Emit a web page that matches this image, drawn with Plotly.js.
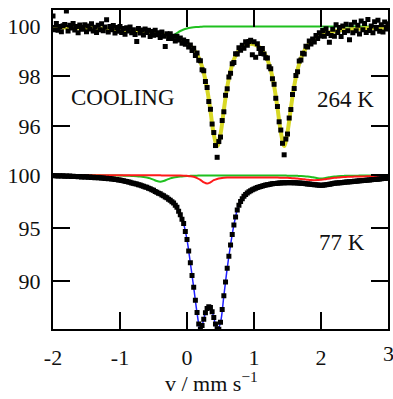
<!DOCTYPE html>
<html>
<head>
<meta charset="utf-8">
<script src="https://cdn.plot.ly/plotly-3.0.1.min.js"></script>
<style>
html,body{margin:0;padding:0;background:#fff;}
#chart{width:393px;height:399px;}
</style>
</head>
<body>
<div id="chart"></div>
<script>
// velocity grid of the fitted curves (mm/s)
const vFit = [-2,-1.95,-1.9,-1.85,-1.8,-1.75,-1.7,-1.65,-1.6,-1.55,-1.5,-1.45,-1.4,-1.35,-1.3,-1.25,-1.2,-1.15,-1.1,-1.05,-1,-0.95,-0.9,-0.85,-0.8,-0.75,-0.7,-0.65,-0.6,-0.55,-0.5,-0.45,-0.4,-0.35,-0.3,-0.25,-0.2,-0.15,-0.1,-0.05,0,0.05,0.1,0.15,0.2,0.25,0.3,0.35,0.4,0.45,0.5,0.55,0.6,0.65,0.7,0.75,0.8,0.85,0.9,0.95,1,1.05,1.1,1.15,1.2,1.25,1.3,1.35,1.4,1.45,1.5,1.55,1.6,1.65,1.7,1.75,1.8,1.85,1.9,1.95,2,2.05,2.1,2.15,2.2,2.25,2.3,2.35,2.4,2.45,2.5,2.55,2.6,2.65,2.7,2.75,2.8,2.85,2.9,2.95,3];

// velocity of the measured channels (mm/s)
const vData = [-2,-1.975,-1.95,-1.925,-1.9,-1.875,-1.85,-1.825,-1.8,-1.775,
-1.75,-1.725,-1.7,-1.675,-1.65,-1.625,-1.6,-1.575,-1.55,-1.525,
-1.5,-1.475,-1.45,-1.425,-1.4,-1.375,-1.35,-1.325,-1.3,-1.275,
-1.25,-1.225,-1.2,-1.175,-1.15,-1.125,-1.1,-1.075,-1.05,-1.025,
-1,-0.975,-0.95,-0.925,-0.9,-0.875,-0.85,-0.825,-0.8,-0.775,
-0.75,-0.725,-0.7,-0.675,-0.65,-0.625,-0.6,-0.575,-0.55,-0.525,
-0.5,-0.475,-0.45,-0.425,-0.4,-0.375,-0.35,-0.325,-0.3,-0.275,
-0.25,-0.225,-0.2,-0.175,-0.15,-0.125,-0.1,-0.075,-0.05,-0.025,
0,0.025,0.05,0.075,0.1,0.125,0.15,0.175,0.2,0.225,
0.25,0.275,0.3,0.325,0.35,0.375,0.4,0.425,0.45,0.475,
0.5,0.525,0.55,0.575,0.6,0.625,0.65,0.675,0.7,0.725,
0.75,0.775,0.8,0.825,0.85,0.875,0.9,0.925,0.95,0.975,
1,1.025,1.05,1.075,1.1,1.125,1.15,1.175,1.2,1.225,
1.25,1.275,1.3,1.325,1.35,1.375,1.4,1.425,1.45,1.475,
1.5,1.525,1.55,1.575,1.6,1.625,1.65,1.675,1.7,1.725,
1.75,1.775,1.8,1.825,1.85,1.875,1.9,1.925,1.95,1.975,
2,2.025,2.05,2.075,2.1,2.125,2.15,2.175,2.2,2.225,
2.25,2.275,2.3,2.325,2.35,2.375,2.4,2.425,2.45,2.475,
2.5,2.525,2.55,2.575,2.6,2.625,2.65,2.675,2.7,2.725,
2.75,2.775,2.8,2.825,2.85,2.875,2.9,2.925,2.95,2.975,3];

// 264 K measured transmission (%)
const data264 = [100.40,99.85,100.10,99.83,99.98,99.77,100.01,100.06,100.60,99.80,
100.03,99.92,100.10,99.84,99.98,99.73,100.04,99.87,99.94,100.05,
99.77,100.00,99.88,100.09,99.80,99.95,99.74,100.03,99.85,100.09,
99.81,99.96,100.25,99.76,99.98,99.85,100.02,99.72,99.94,99.79,
99.98,99.74,99.90,99.67,99.93,99.80,99.96,99.73,99.85,99.66,
99.38,99.90,99.72,99.84,99.64,99.88,99.74,99.83,99.58,99.78,
99.63,99.83,99.65,99.73,99.54,99.76,99.59,99.18,99.69,99.50,
99.69,99.50,99.59,99.40,99.59,99.44,99.52,99.31,99.44,99.27,
99.38,99.16,99.24,99.02,99.11,98.82,98.92,98.63,98.61,98.25,
98.21,97.78,97.54,96.98,96.67,96.08,95.74,95.22,94.75,95.38,
95.56,96.22,96.57,97.23,97.49,97.96,98.11,98.49,98.54,98.89,
98.88,99.13,99.03,99.23,99.11,99.37,99.23,99.38,99.43,98.85,
99.37,98.75,99.29,99.10,98.90,99.10,98.88,98.73,98.72,98.37,
98.29,97.89,97.67,97.11,96.78,96.17,95.84,95.31,94.85,95.48,
95.68,96.32,96.66,97.26,97.50,98.02,98.17,98.60,98.64,98.91,
98.88,99.19,99.16,99.40,99.28,99.48,99.36,99.62,99.50,99.73,
99.60,99.82,99.59,99.89,99.70,99.35,99.62,99.87,99.59,100.05,
99.74,99.94,99.58,100.00,99.74,100.07,99.81,99.45,100.05,99.73,
100.15,99.81,100.03,99.68,100.20,99.85,100.10,99.74,100.26,99.82,
100.00,99.73,100.17,99.89,100.23,99.79,100.05,99.76,100.16,99.88,100.09];

// 264 K fitted envelope (yellow) and broad component (green)
const fit264 = [99.95,99.95,99.95,99.94,99.94,99.94,99.94,99.93,99.93,99.92,
99.92,99.92,99.91,99.91,99.90,99.90,99.89,99.88,99.88,99.87,
99.86,99.85,99.84,99.83,99.82,99.80,99.79,99.77,99.76,99.74,
99.72,99.70,99.68,99.65,99.62,99.59,99.55,99.51,99.46,99.39,
99.31,99.21,99.06,98.86,98.57,98.13,97.49,96.61,95.66,95.20,
95.68,96.65,97.55,98.21,98.66,98.93,99.10,99.21,99.27,99.29,
99.27,99.21,99.10,98.93,98.66,98.24,97.61,96.73,95.77,95.20,
95.76,96.71,97.60,98.25,98.70,99.00,99.21,99.36,99.48,99.56,
99.64,99.69,99.73,99.76,99.79,99.81,99.83,99.85,99.86,99.87,
99.88,99.89,99.90,99.91,99.91,99.92,99.93,99.93,99.93,99.94,99.94];
const green264 = [99.97,99.97,99.97,99.96,99.96,99.96,99.96,99.95,99.95,99.94,
99.94,99.94,99.93,99.93,99.92,99.92,99.91,99.90,99.90,99.89,
99.88,99.87,99.86,99.85,99.84,99.82,99.81,99.79,99.78,99.76,
99.74,99.72,99.70,99.67,99.64,99.62,99.64,99.72,99.80,99.86,
99.90,99.93,99.95,99.96,99.97,99.98,99.98,99.98,99.98,99.98,
99.98,99.98,99.98,99.98,99.98,99.98,99.98,99.98,99.98,99.98,
99.98,99.98,99.98,99.98,99.98,99.98,99.98,99.98,99.98,99.98,
99.98,99.98,99.98,99.98,99.98,99.98,99.98,99.98,99.98,99.98,
99.98,99.98,99.98,99.98,99.98,99.98,99.98,99.98,99.98,99.98,
99.98,99.98,99.98,99.98,99.98,99.98,99.98,99.98,99.98,99.98,99.98];

// 77 K measured transmission (%)
const data77 = [99.97,99.93,99.95,99.92,99.94,99.91,99.93,99.90,99.92,99.89,
99.91,99.88,99.90,99.86,99.88,99.85,99.87,99.83,99.85,99.82,
99.84,99.80,99.82,99.78,99.80,99.76,99.78,99.74,99.76,99.72,
99.73,99.69,99.70,99.66,99.67,99.63,99.64,99.59,99.59,99.54,
99.54,99.48,99.47,99.41,99.40,99.34,99.32,99.26,99.24,99.18,
99.16,99.09,99.07,98.99,98.96,98.88,98.85,98.76,98.71,98.61,
98.56,98.45,98.39,98.29,98.23,98.12,98.06,97.94,97.86,97.72,
97.63,97.48,97.37,97.16,96.96,96.60,96.26,95.84,95.42,94.68,
93.92,92.83,91.72,90.53,89.42,88.18,87.02,85.95,85.45,85.80,
86.40,87.00,87.40,87.58,87.50,87.10,86.55,85.95,85.50,85.45,
86.10,87.30,88.60,89.90,91.20,92.35,93.40,94.40,95.30,96.05,
96.70,97.15,97.50,97.78,98.00,98.16,98.30,98.42,98.52,98.62,
98.70,98.77,98.82,98.88,98.93,98.98,99.02,99.06,99.09,99.12,
99.15,99.18,99.20,99.22,99.23,99.25,99.26,99.27,99.28,99.29,
99.29,99.30,99.29,99.29,99.28,99.27,99.26,99.25,99.24,99.23,
99.21,99.19,99.17,99.15,99.13,99.11,99.09,99.08,99.06,99.05,
99.04,99.05,99.06,99.08,99.11,99.14,99.17,99.20,99.23,99.25,
99.26,99.28,99.29,99.31,99.32,99.34,99.35,99.37,99.38,99.40,
99.41,99.43,99.44,99.46,99.47,99.49,99.50,99.52,99.53,99.55,
99.56,99.58,99.59,99.61,99.62,99.64,99.65,99.67,99.68,99.70,99.71];

// 77 K fitted envelope (blue) and two components (green, red)
const fit77 = [99.95,99.94,99.93,99.92,99.91,99.90,99.89,99.87,99.86,99.84,
99.83,99.81,99.79,99.77,99.75,99.72,99.69,99.66,99.63,99.58,
99.53,99.46,99.39,99.31,99.23,99.15,99.06,98.95,98.84,98.70,
98.55,98.38,98.22,98.05,97.85,97.62,97.36,96.95,96.25,95.40,
93.90,91.70,89.40,87.00,85.30,86.40,87.40,87.50,86.55,85.30,
86.10,88.60,91.20,93.40,95.30,96.70,97.50,98.00,98.30,98.52,
98.70,98.82,98.93,99.02,99.09,99.15,99.20,99.23,99.26,99.28,
99.29,99.29,99.28,99.26,99.24,99.21,99.17,99.13,99.09,99.06,
99.04,99.06,99.11,99.17,99.23,99.26,99.29,99.32,99.35,99.38,
99.41,99.44,99.47,99.50,99.53,99.56,99.59,99.62,99.65,99.68,99.71];
const green77 = [99.98,99.98,99.98,99.98,99.98,99.98,99.98,99.98,99.98,99.98,
99.98,99.98,99.98,99.98,99.98,99.97,99.97,99.97,99.97,99.96,
99.96,99.95,99.94,99.93,99.92,99.90,99.87,99.83,99.77,99.69,
99.57,99.44,99.38,99.44,99.57,99.69,99.77,99.83,99.87,99.90,
99.92,99.93,99.94,99.95,99.96,99.96,99.96,99.96,99.96,99.96,
99.97,99.97,99.97,99.97,99.97,99.97,99.97,99.97,99.97,99.97,
99.97,99.97,99.97,99.97,99.97,99.97,99.97,99.97,99.96,99.96,
99.95,99.95,99.94,99.93,99.92,99.90,99.87,99.83,99.77,99.71,
99.68,99.71,99.77,99.83,99.87,99.90,99.92,99.93,99.94,99.94,
99.95,99.95,99.96,99.96,99.96,99.97,99.97,99.97,99.97,99.97,99.97];
const red77 = [99.99,99.99,99.99,99.99,99.99,99.99,99.99,99.99,99.99,99.99,
99.99,99.99,99.99,99.99,99.99,99.99,99.99,99.99,99.99,99.99,
99.99,99.99,99.99,99.99,99.98,99.98,99.98,99.98,99.98,99.98,
99.98,99.98,99.98,99.97,99.97,99.97,99.97,99.96,99.96,99.95,
99.93,99.90,99.84,99.72,99.55,99.32,99.20,99.32,99.52,99.64,
99.71,99.75,99.77,99.78,99.78,99.78,99.78,99.78,99.78,99.78,
99.78,99.78,99.78,99.78,99.78,99.77,99.77,99.77,99.76,99.75,
99.74,99.72,99.70,99.67,99.64,99.60,99.56,99.53,99.52,99.53,
99.56,99.60,99.65,99.70,99.74,99.77,99.80,99.82,99.84,99.85,
99.86,99.87,99.88,99.88,99.89,99.89,99.90,99.90,99.90,99.91,99.91];

const xTickVals = [-2,-1,0,1,2,3];
const xTickText = ['-2','-1','0','1','2',''];
const yTopTicks = [96,98,100];
const yLowTicks = [90,95,100];

const FONT = 'Liberation Serif';
const TXT = '#111';
const mk = {symbol:'square', size:5, color:'#000'};

const traces = [
  {x:vFit, y:green264, xaxis:'x2', yaxis:'y2', mode:'lines', line:{color:'#1fc01f', width:2, shape:'spline'}, hoverinfo:'skip'},
  {x:vFit, y:fit264, xaxis:'x2', yaxis:'y2', mode:'lines', line:{color:'#d8d826', width:4, shape:'spline'}, hoverinfo:'skip'},
  {x:vData, y:data264, xaxis:'x2', yaxis:'y2', mode:'markers', marker:mk},
  {x:vFit, y:fit77, xaxis:'x', yaxis:'y', mode:'lines', line:{color:'#2020ff', width:1.5, shape:'spline'}, hoverinfo:'skip'},
  {x:vFit, y:green77, xaxis:'x', yaxis:'y', mode:'lines', line:{color:'#1fc01f', width:2, shape:'spline'}, hoverinfo:'skip'},
  {x:vFit, y:red77, xaxis:'x', yaxis:'y', mode:'lines', line:{color:'#ff1a1a', width:2, shape:'spline'}, hoverinfo:'skip'},
  {x:vData, y:data77, xaxis:'x', yaxis:'y', mode:'markers', marker:mk}
];

const axCommon = {
  showgrid:false, zeroline:false, showline:true, linecolor:'#000', linewidth:2,
  ticks:'inside', ticklen:17, tickwidth:2, tickcolor:'#000',
  tickfont:{family:FONT, size:22, color:TXT}
};

const layout = {
  width:393, height:399,
  margin:{l:53, r:5, t:10, b:70},
  paper_bgcolor:'#fff', plot_bgcolor:'#fff',
  showlegend:false,
  xaxis:Object.assign({}, axCommon, {
    range:[-2,3], anchor:'y', side:'bottom', tickmode:'array',
    tickvals:xTickVals, ticktext:xTickText, ticklabelstandoff:8
  }),
  xaxis2:Object.assign({}, axCommon, {
    range:[-2,3], anchor:'y2', side:'top', matches:'x', tickmode:'array',
    tickvals:xTickVals, showticklabels:false
  }),
  yaxis:Object.assign({}, axCommon, {
    domain:[0,0.498], range:[85.47,100.47], anchor:'x', mirror:'ticks',
    tickmode:'array', tickvals:yLowTicks, ticklabelstandoff:6
  }),
  yaxis2:Object.assign({}, axCommon, {
    domain:[0.492,1], range:[94.16,100.64], anchor:'x2', mirror:'ticks',
    tickmode:'array', tickvals:yTopTicks, ticklabelstandoff:6
  }),
  annotations:[
    {text:'COOLING', xref:'x2', yref:'y2', x:-0.955, y:97.16, showarrow:false, font:{family:FONT, size:23, color:TXT}},
    {text:'264 K', xref:'x2', yref:'y2', x:2.36, y:97.08, showarrow:false, font:{family:FONT, size:23, color:TXT}},
    {text:'77 K', xref:'x', yref:'y', x:2.31, y:93.68, showarrow:false, font:{family:FONT, size:23, color:TXT}},
    {text:'3', xref:'paper', yref:'paper', x:1.0, xanchor:'center', y:-0.078, yanchor:'middle', showarrow:false, font:{family:FONT, size:22, color:TXT}},
    {text:'v / mm s<sup>−1</sup>', xref:'paper', yref:'paper', x:0.328, xanchor:'left', y:-0.217, yanchor:'bottom', showarrow:false, font:{family:FONT, size:22, color:TXT}}
  ]
};

Plotly.newPlot('chart', traces, layout, {displayModeBar:false});
</script>
</body>
</html>
